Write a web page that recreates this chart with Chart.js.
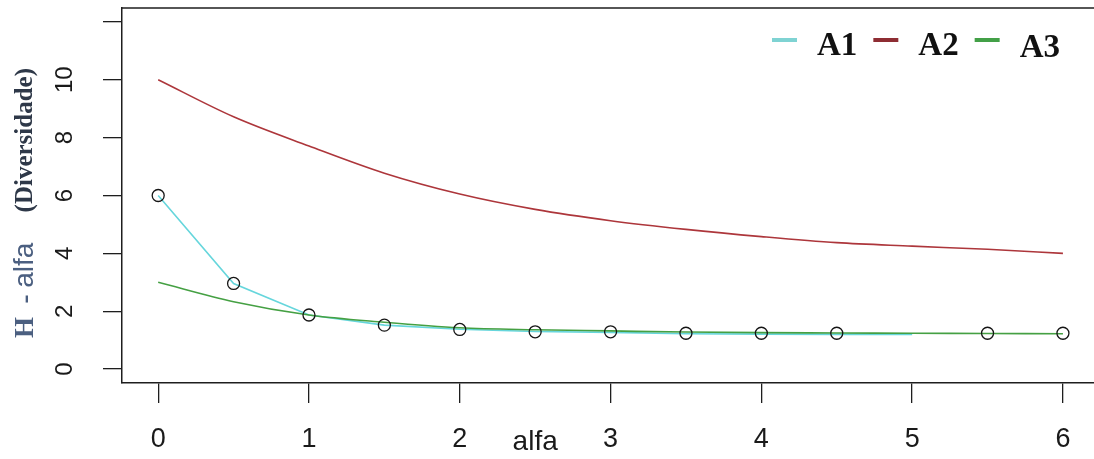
<!DOCTYPE html>
<html>
<head>
<meta charset="utf-8">
<script src="https://cdn.jsdelivr.net/npm/chart.js@4"></script>
<style>
  html, body { margin: 0; padding: 0; background: #fff; overflow: hidden; }
  #wrap { position: absolute; left: 0; top: 0; width: 1094px; height: 459px; }
</style>
</head>
<body>
<div id="wrap"><canvas id="myChart"></canvas></div>
<script>
"use strict";
// Data
const alfaA1 = [0, 0.5, 1, 1.5, 2, 2.5, 3, 3.5, 4, 4.5, 5];
const valuesA1 = [6.0, 2.96, 1.87, 1.52, 1.38, 1.30, 1.27, 1.22, 1.21, 1.20, 1.20];

const alfaCurve = [0, 0.5, 1, 1.5, 2, 2.5, 3, 3.5, 4, 4.5, 5, 5.5, 6];
const valuesA2 = [10, 8.72, 7.71, 6.77, 6.05, 5.52, 5.13, 4.83, 4.58, 4.37, 4.25, 4.14, 4.0];
const valuesA3 = [3.0, 2.33, 1.87, 1.62, 1.43, 1.36, 1.32, 1.28, 1.26, 1.25, 1.24, 1.23, 1.22];

const alfaPoints = [0, 0.5, 1, 1.5, 2, 2.5, 3, 3.5, 4, 4.5, 5.5, 6];
const valuesPoints = [6.0, 2.96, 1.87, 1.52, 1.37, 1.29, 1.29, 1.24, 1.24, 1.24, 1.24, 1.24];

const xTicks = [0, 1, 2, 3, 4, 5, 6];
const yTicks = [0, 2, 4, 6, 8, 10, 12];
const yLabels = [0, 2, 4, 6, 8, 10];

const serif = "'Liberation Serif', 'DejaVu Serif', serif";
const sans = "'Liberation Sans', Arial, sans-serif";

function pairs(xs, ys) {
    return ys.map((y, i) => ({ x: xs[i], y: y }));
}

// Setup
const data = {
    datasets: [
        {
            label: "A1",
            data: pairs(alfaA1, valuesA1),
            borderColor: "#66d6dc",
            legendColor: "#7fd3d3",
            borderWidth: 1.6,
            pointRadius: 0,
            order: 3,
        },
        {
            label: "A2",
            data: pairs(alfaCurve, valuesA2),
            borderColor: "#ad363b",
            legendColor: "#8e2d33",
            borderWidth: 1.6,
            pointRadius: 0,
            cubicInterpolationMode: "monotone",
            order: 2,
        },
        {
            label: "A3",
            data: pairs(alfaCurve, valuesA3),
            borderColor: "#45a043",
            legendColor: "#43a047",
            borderWidth: 1.6,
            pointRadius: 0,
            cubicInterpolationMode: "monotone",
            order: 1,
        },
        {
            label: "",
            data: pairs(alfaPoints, valuesPoints),
            showLine: false,
            pointRadius: 6,
            pointHoverRadius: 6,
            pointBorderColor: "#151515",
            pointBackgroundColor: "rgba(0,0,0,0)",
            pointBorderWidth: 1.3,
            order: 0,
        },
    ],
};

// Box top edge, legend, tick labels and axis titles, drawn the base-R way
const decorations = {
    id: "decorations",
    afterDatasetsDraw(chart) {
        const { ctx, chartArea: a } = chart;
        ctx.save();
        ctx.strokeStyle = "#1e1e1e";
        ctx.lineWidth = 1.5;
        ctx.beginPath();
        ctx.moveTo(a.left, a.top);
        ctx.lineTo(chart.width, a.top);
        ctx.stroke();
        ctx.restore();
    },
    afterDraw(chart) {
        const { ctx } = chart;
        const xs = chart.scales.x;
        const ys = chart.scales.y;
        ctx.save();
        ctx.fillStyle = "#1a1a1a";
        ctx.textBaseline = "alphabetic";

        // x tick labels
        ctx.font = "27px " + sans;
        ctx.textAlign = "center";
        xTicks.forEach((v) => {
            ctx.fillText(String(v), xs.getPixelForValue(v), 447);
        });

        // y tick labels, parallel to the axis
        ctx.font = "24px " + sans;
        yLabels.forEach((v) => {
            ctx.save();
            ctx.translate(72, ys.getPixelForValue(v));
            ctx.rotate(-Math.PI / 2);
            ctx.fillText(String(v), 0, 0);
            ctx.restore();
        });

        // y title: "H - alfa  (Diversidade)"
        ctx.save();
        ctx.translate(33, 338);
        ctx.rotate(-Math.PI / 2);
        ctx.textAlign = "left";
        let pos = 0;
        ctx.fillStyle = "#4b5f80";
        ctx.font = "bold 27px " + serif;
        ctx.fillText("H  -", pos, 0);
        pos += ctx.measureText("H  - ").width;
        ctx.font = "28px " + sans;
        ctx.fillText("alfa", pos, 0);
        ctx.fillStyle = "#2e3848";
        ctx.font = "bold 25px " + serif;
        ctx.textAlign = "right";
        ctx.fillText("(Diversidade)", 270, -1);
        ctx.restore();

        // x title sits on the tick-label row, between 2 and 3
        ctx.fillStyle = "#1a1a1a";
        ctx.font = "28px " + sans;
        ctx.textAlign = "center";
        ctx.fillText("alfa", xs.getPixelForValue(2.5), 450);

        // legend, top right inside the box
        let lx = 772;
        ctx.textAlign = "left";
        chart.data.datasets.forEach((ds) => {
            if (!ds.label) return;
            ctx.strokeStyle = ds.legendColor;
            ctx.lineWidth = 4;
            ctx.beginPath();
            ctx.moveTo(lx, 40);
            ctx.lineTo(lx + 25, 40);
            ctx.stroke();
            lx += 25 + 20;
            ctx.fillStyle = "#111";
            ctx.font = "bold 33px " + serif;
            ctx.fillText(ds.label, lx, ds.label === "A3" ? 57 : 55);
            lx += ctx.measureText(ds.label).width + 16;
        });

        ctx.restore();
    },
};

// Config
const config = {
    type: "line",
    data: data,
    options: {
        responsive: true,
        maintainAspectRatio: false,
        devicePixelRatio: 1,
        animation: false,
        layout: {
            autoPadding: false,
            padding: { left: 0, right: 0, top: 8, bottom: 0 },
        },
        scales: {
            x: {
                type: "linear",
                position: "bottom",
                min: -0.24,
                max: 6.206,
                afterBuildTicks: (scale) => {
                    scale.ticks = xTicks.map((v) => ({ value: v }));
                },
                afterFit: (scale) => {
                    scale.height = 76;
                },
                ticks: {
                    color: "rgba(0,0,0,0)",
                    font: { family: sans, size: 1 },
                    padding: 0,
                    maxRotation: 0,
                    autoSkip: false,
                },
                grid: {
                    drawOnChartArea: false,
                    drawTicks: true,
                    tickLength: 20,
                    color: "#1e1e1e",
                    lineWidth: 1.3,
                },
                border: { display: true, color: "#1e1e1e", width: 1.5 },
            },
            y: {
                type: "linear",
                min: -0.48,
                max: 12.48,
                afterBuildTicks: (scale) => {
                    scale.ticks = yTicks.map((v) => ({ value: v }));
                },
                afterFit: (scale) => {
                    scale.width = 122;
                },
                ticks: {
                    color: "rgba(0,0,0,0)",
                    font: { family: sans, size: 1 },
                    padding: 0,
                },
                grid: {
                    drawOnChartArea: false,
                    drawTicks: true,
                    tickLength: 19,
                    color: "#1e1e1e",
                    lineWidth: 1.3,
                },
                border: { display: true, color: "#1e1e1e", width: 1.5 },
            },
        },
        plugins: {
            legend: { display: false },
            tooltip: { enabled: false },
        },
    },
    plugins: [decorations],
};

const myChart = new Chart(document.getElementById("myChart"), config);
</script>
</body>
</html>
